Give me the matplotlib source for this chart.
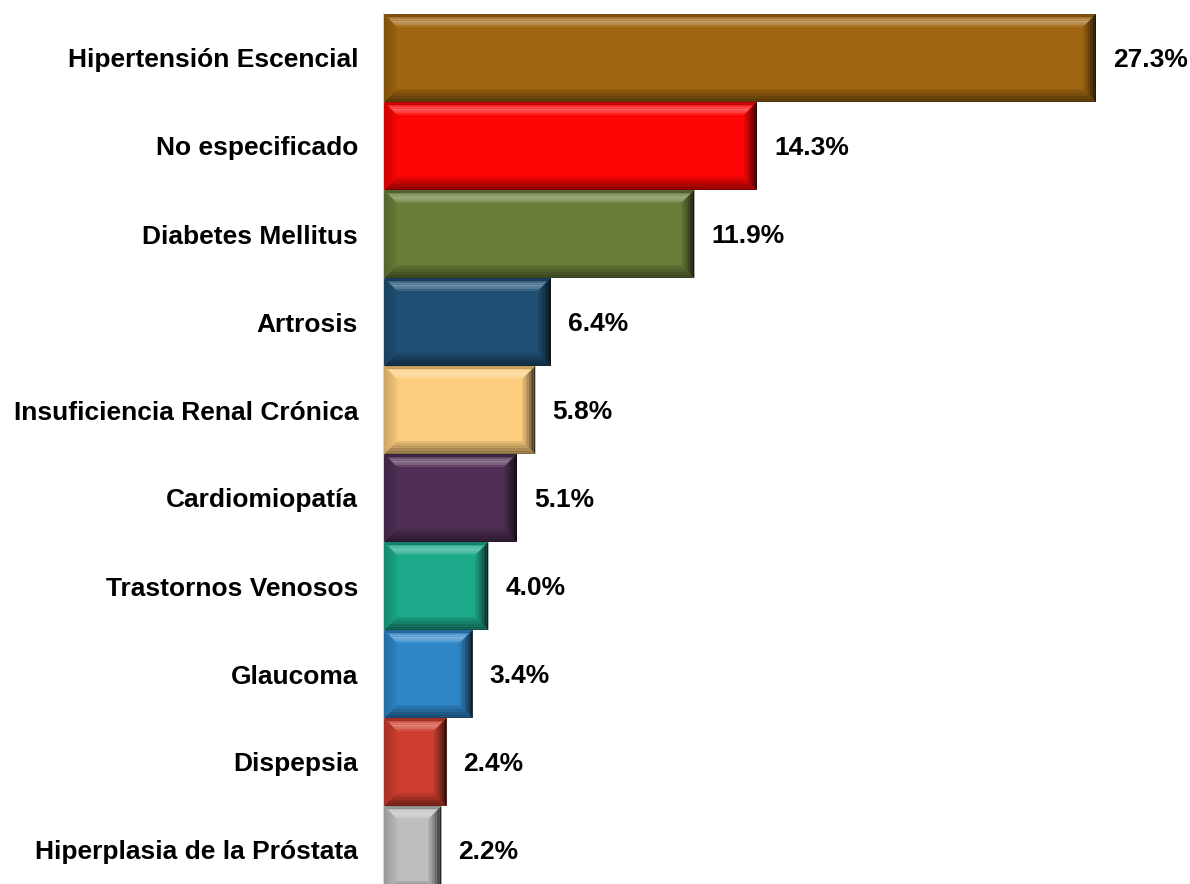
import matplotlib
matplotlib.use("Agg")
import matplotlib.pyplot as plt
from matplotlib.patches import Polygon
from matplotlib.colors import to_rgb
import numpy as np

categories = ["Hipertensión Escencial", "No especificado", "Diabetes Mellitus",
              "Artrosis", "Insuficiencia Renal Crónica", "Cardiomiopatía",
              "Trastornos Venosos", "Glaucoma", "Dispepsia",
              "Hiperplasia de la Próstata"]
values = [27.3, 14.3, 11.9, 6.4, 5.8, 5.1, 4.0, 3.4, 2.4, 2.2]
value_labels = ["27.3%", "14.3%", "11.9%", "6.4%", "5.8%", "5.1%",
                "4.0%", "3.4%", "2.4%", "2.2%"]
colors = ["#9F6510", "#FE0505", "#6A7E39", "#1F5074", "#FDCD7E",
          "#4F2F55", "#1BA98A", "#2E86C8", "#CE3E2F", "#BEBEBE"]

plt.rcParams['font.family'] = ['Liberation Sans', 'DejaVu Sans']

W, H, DPI = 1190, 884, 100
fig = plt.figure(figsize=(W / DPI, H / DPI), dpi=DPI)

px_per_unit = 26.08
left_px = 384
xmax = 30.0
pitch = 88.0
top_px = 14
ax_w = xmax * px_per_unit
ybottom = -0.5 + (H - top_px) / pitch
ax = fig.add_axes([left_px / W, 0, ax_w / W, (H - top_px) / H])

y = np.arange(len(categories))
bars = ax.barh(y, values, height=1.0, color=colors, edgecolor='none', zorder=2)
ax.set_xlim(0, xmax)
ax.set_ylim(ybottom, -0.5)

def blend(c, target, f):
    c = np.array(to_rgb(c)); t = np.array(to_rgb(target))
    return tuple(c * (1 - f) + t * f)

bev_px = 13.0
bx = bev_px / px_per_unit
by = bev_px / pitch
nstep = 8
for bar, col in zip(bars, colors):
    x0, y0 = bar.get_x(), bar.get_y()
    x1, y1 = x0 + bar.get_width(), y0 + bar.get_height()
    for k in range(nstep):
        t0 = k / nstep
        t1 = (k + 1) / nstep
        tm = (t0 + t1) / 2
        # top bevel: darker outer edge, light highlight band
        if tm < 0.2:
            ctop = blend(col, 'black', 0.25)
        else:
            ctop = blend(col, 'white', 0.32 * np.sin(np.pi * (tm - 0.2) / 0.8) + 0.03)
        pts = [(x0 + bx * t0, y0 + by * t0), (x1 - bx * t0, y0 + by * t0),
               (x1 - bx * t1, y0 + by * t1), (x0 + bx * t1, y0 + by * t1)]
        ax.add_patch(Polygon(pts, closed=True, color=ctop, lw=0, zorder=3))
        # bottom bevel (dark, darkest at edge)
        fb = 0.45 * (1 - t0) + 0.05
        pts = [(x0 + bx * t0, y1 - by * t0), (x1 - bx * t0, y1 - by * t0),
               (x1 - bx * t1, y1 - by * t1), (x0 + bx * t1, y1 - by * t1)]
        ax.add_patch(Polygon(pts, closed=True, color=blend(col, 'black', fb),
                             lw=0, zorder=3))
        # right bevel (darkest)
        fr = 0.75 * (1 - t0) ** 1.3 + 0.05
        pts = [(x1 - bx * t0, y0 + by * t0), (x1 - bx * t0, y1 - by * t0),
               (x1 - bx * t1, y1 - by * t1), (x1 - bx * t1, y0 + by * t1)]
        ax.add_patch(Polygon(pts, closed=True, color=blend(col, 'black', fr),
                             lw=0, zorder=3))
        # left bevel (slightly dark)
        fl = 0.18 * (1 - t0) + 0.03
        pts = [(x0 + bx * t0, y0 + by * t0), (x0 + bx * t0, y1 - by * t0),
               (x0 + bx * t1, y1 - by * t1), (x0 + bx * t1, y0 + by * t1)]
        ax.add_patch(Polygon(pts, closed=True, color=blend(col, 'black', fl),
                             lw=0, zorder=3))

for yi, v, lab in zip(y, values, value_labels):
    ax.annotate(lab, xy=(v, yi), xytext=(17 * 72 / DPI, -2 * 72 / DPI),
                textcoords='offset points',
                ha='left', va='center', fontsize=19, fontweight='bold', color='black')

ax.set_yticks(y)
ax.set_yticklabels(categories, fontsize=19, fontweight='bold')
ax.tick_params(axis='y', length=0, pad=26 * 72 / DPI)
ax.set_xticks([])
for s in ['top', 'right', 'bottom']:
    ax.spines[s].set_visible(False)
ax.spines['left'].set_color('#d9d9d9')
ax.spines['left'].set_linewidth(1.5)

fig.savefig("out.png", dpi=DPI)
